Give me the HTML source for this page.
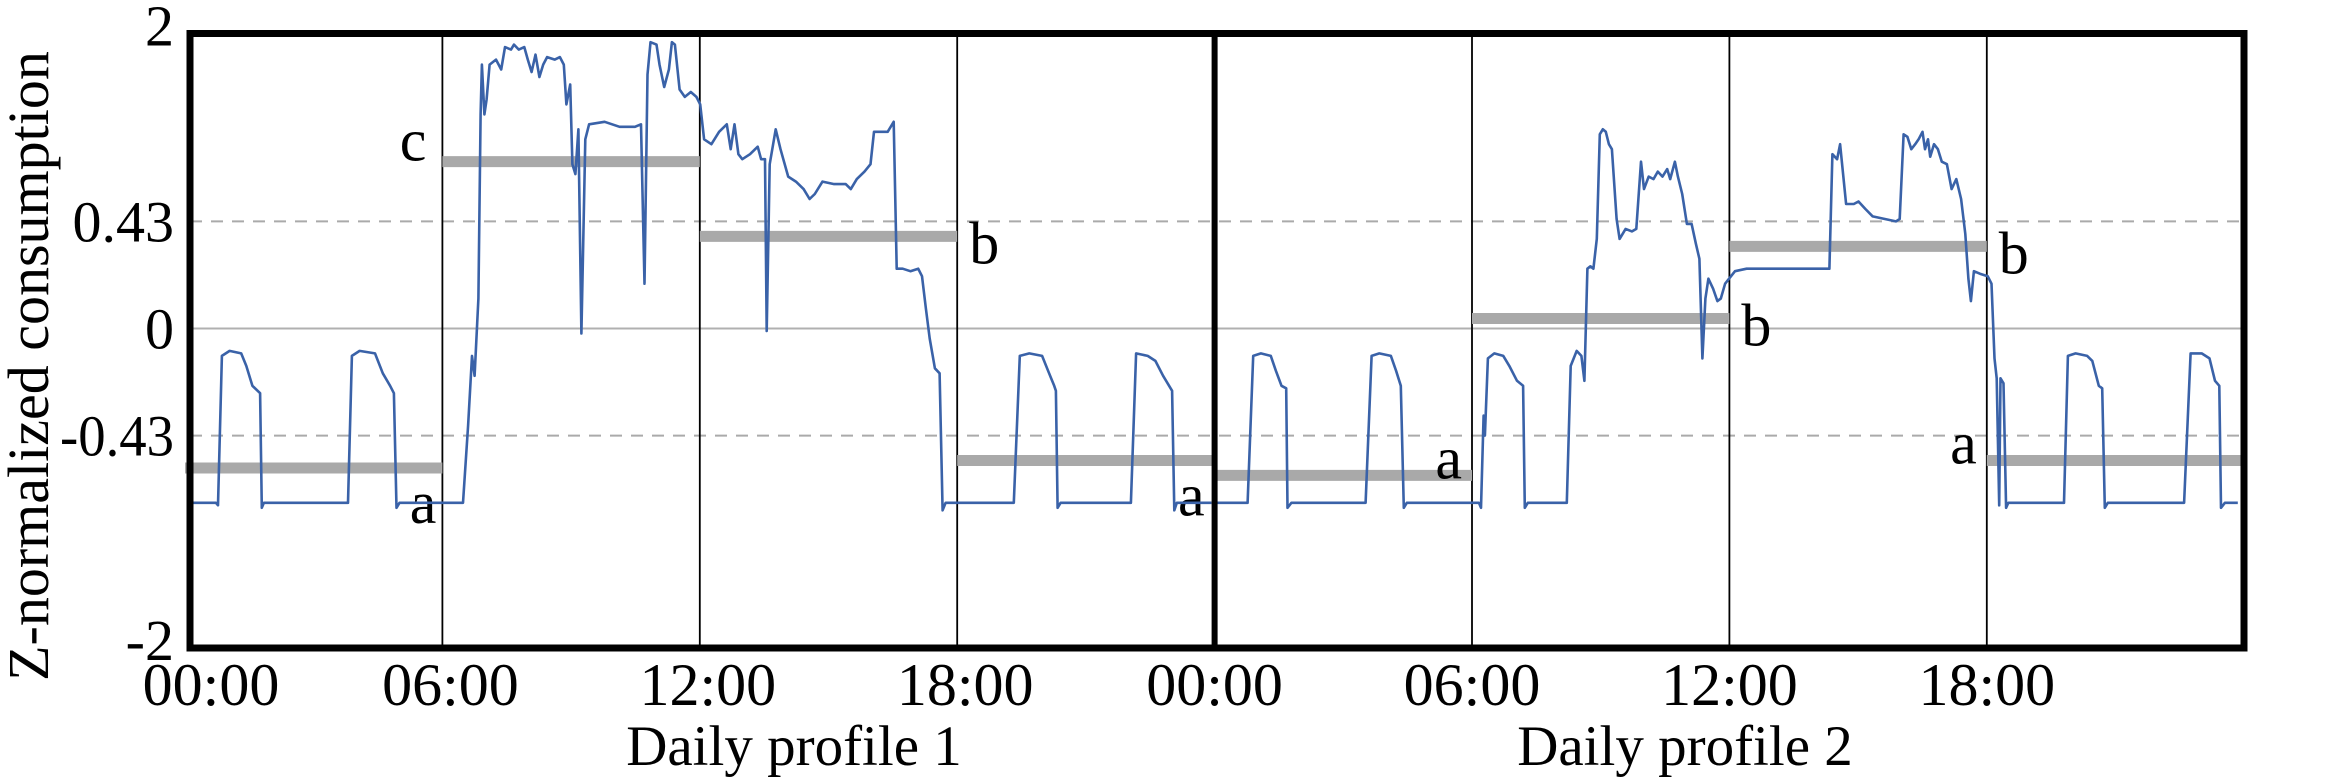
<!DOCTYPE html>
<html>
<head>
<meta charset="utf-8">
<style>
html,body{margin:0;padding:0;background:#fff;}
svg{display:block;}
text{font-family:"Liberation Serif",serif;fill:#000;}
</style>
</head>
<body>
<svg id="chart" width="2350" height="783" viewBox="0 0 2350 783" xmlns="http://www.w3.org/2000/svg">
  <g id="grid"></g>
  <g id="bars"></g>
  <g id="series"></g>
  <g id="frame"></g>
  <g id="labels"></g>
  <text transform="translate(48,366) rotate(-90)" text-anchor="middle" font-size="58">Z-normalized consumption</text>
  <text x="794" y="765" text-anchor="middle" font-size="57">Daily profile 1</text>
  <text x="1685" y="765" text-anchor="middle" font-size="57">Daily profile 2</text>
</svg>
<script>
// ---- data ----
const hours1 = [0.15,0.72,0.77,0.86,1.04,1.31,1.43,1.57,1.75,1.79,1.84,3.80,3.89,4.07,4.43,4.61,4.78,4.87,4.93,5.00,6.48,6.60,6.69,6.75,6.84,6.89,6.92,6.98,7.03,7.10,7.25,7.37,7.46,7.60,7.67,7.78,7.91,7.99,8.08,8.17,8.26,8.35,8.44,8.62,8.74,8.83,8.89,8.98,9.03,9.10,9.17,9.24,9.33,9.42,9.78,10.13,10.49,10.63,10.71,10.78,10.85,10.99,11.06,11.17,11.28,11.35,11.42,11.53,11.65,11.79,11.92,12.01,12.10,12.27,12.45,12.63,12.72,12.81,12.90,12.99,13.17,13.35,13.43,13.52,13.56,13.63,13.77,13.88,14.06,14.24,14.42,14.56,14.68,14.86,15.13,15.40,15.52,15.66,15.84,15.98,16.06,16.20,16.38,16.52,16.59,16.73,16.91,17.09,17.18,17.27,17.36,17.48,17.59,17.66,17.73,19.32,19.46,19.68,19.98,20.12,20.26,20.30,20.34,20.41,22.05,22.17,22.44,22.62,22.80,22.94,23.01,23.06,23.12,23.92];
const values1 = [-0.70,-0.70,-0.71,-0.11,-0.09,-0.10,-0.15,-0.23,-0.26,-0.72,-0.70,-0.70,-0.11,-0.09,-0.10,-0.18,-0.23,-0.26,-0.72,-0.70,-0.70,-0.39,-0.11,-0.19,0.12,0.86,1.06,0.86,0.92,1.06,1.08,1.04,1.13,1.12,1.14,1.12,1.13,1.08,1.03,1.10,1.01,1.06,1.09,1.08,1.09,1.06,0.90,0.98,0.66,0.62,0.80,-0.02,0.76,0.82,0.83,0.81,0.81,0.82,0.18,1.02,1.15,1.14,1.06,0.97,1.04,1.15,1.14,0.96,0.93,0.95,0.93,0.90,0.76,0.74,0.79,0.82,0.72,0.82,0.70,0.68,0.70,0.73,0.68,0.68,-0.01,0.66,0.80,0.72,0.61,0.59,0.56,0.52,0.54,0.59,0.58,0.58,0.56,0.60,0.63,0.66,0.79,0.79,0.79,0.83,0.24,0.24,0.23,0.24,0.21,0.08,-0.04,-0.16,-0.18,-0.73,-0.70,-0.70,-0.11,-0.10,-0.11,-0.17,-0.23,-0.25,-0.72,-0.70,-0.70,-0.10,-0.11,-0.13,-0.19,-0.23,-0.25,-0.73,-0.70,-0.70];
const hours2 = [23.92,24.77,24.90,25.08,25.31,25.43,25.56,25.67,25.70,25.79,27.52,27.66,27.84,28.11,28.23,28.34,28.41,28.48,30.16,30.21,30.27,30.30,30.37,30.52,30.73,30.87,31.05,31.19,31.23,31.30,32.21,32.30,32.44,32.55,32.62,32.69,32.76,32.83,32.91,32.98,33.05,33.12,33.19,33.26,33.37,33.44,33.51,33.58,33.73,33.83,33.94,34.01,34.12,34.23,34.33,34.44,34.55,34.62,34.73,34.80,34.90,35.01,35.12,35.22,35.30,35.37,35.44,35.51,35.62,35.72,35.80,35.90,36.13,36.40,36.76,37.29,37.83,38.33,38.40,38.51,38.58,38.65,38.72,38.90,39.01,39.17,39.34,39.61,39.88,39.97,40.06,40.15,40.24,40.33,40.41,40.50,40.56,40.63,40.68,40.77,40.86,40.95,41.07,41.18,41.29,41.40,41.50,41.57,41.63,41.70,41.84,42.02,42.11,42.18,42.23,42.29,42.32,42.39,42.45,42.50,43.80,43.89,44.07,44.34,44.46,44.61,44.69,44.75,44.82,46.60,46.75,47.01,47.19,47.32,47.42,47.46,47.55,47.85];
const values2 = [-0.70,-0.70,-0.11,-0.10,-0.11,-0.17,-0.23,-0.24,-0.72,-0.70,-0.70,-0.11,-0.10,-0.11,-0.17,-0.23,-0.72,-0.70,-0.70,-0.72,-0.35,-0.43,-0.12,-0.10,-0.11,-0.15,-0.21,-0.23,-0.72,-0.70,-0.70,-0.15,-0.09,-0.11,-0.21,0.24,0.25,0.24,0.36,0.78,0.80,0.79,0.74,0.72,0.44,0.36,0.38,0.40,0.39,0.40,0.67,0.56,0.61,0.60,0.63,0.61,0.64,0.60,0.67,0.61,0.54,0.42,0.42,0.34,0.28,-0.12,0.12,0.20,0.16,0.11,0.12,0.18,0.23,0.24,0.24,0.24,0.24,0.24,0.70,0.68,0.74,0.62,0.50,0.50,0.51,0.48,0.45,0.44,0.43,0.44,0.78,0.77,0.72,0.74,0.76,0.79,0.72,0.76,0.69,0.74,0.72,0.67,0.66,0.56,0.60,0.52,0.38,0.20,0.11,0.23,0.22,0.21,0.18,-0.12,-0.20,-0.71,-0.20,-0.22,-0.72,-0.70,-0.70,-0.11,-0.10,-0.11,-0.13,-0.23,-0.24,-0.72,-0.70,-0.70,-0.10,-0.10,-0.12,-0.21,-0.23,-0.72,-0.70,-0.70];
const segStarts = [0,6,12,18,24,30,36,42];
const segEnds = [6,12,18,24,30,36,42,48];
const segValues = [-0.56,0.67,0.37,-0.53,-0.59,0.04,0.33,-0.53];
const segLabels = ['a','c','b','a','a','b','b','a'];
const yTickValues = [2,0.43,0,-0.43,-2];
const yTickLabels = ['2','0.43','0','-0.43','-2'];
const xTickHours = [0,6,12,18,24,30,36,42];
const xTickLabels = ['00:00','06:00','12:00','18:00','00:00','06:00','12:00','18:00'];
const dashedValues = [0.43,-0.43];

// ---- scales ----
const X0 = 185, XPH = 42.9;
const Y0 = 328.5, YPU = 249;
const TOP = 33.5, BOT = 648, LEFT = 190, RIGHT = 2244;
const VMAX = (Y0-TOP)/YPU, VMIN = (Y0-BOT)/YPU;
function x(h){ return X0 + h*XPH; }
function y(v){ const c = Math.max(VMIN, Math.min(VMAX, v)); return Y0 - c*YPU; }
const NS = 'http://www.w3.org/2000/svg';
function mk(tag, parent, attrs){ const e = document.createElementNS(NS, tag); for (const k in attrs) e.setAttribute(k, attrs[k]); parent.appendChild(e); return e; }

const grid = document.getElementById('grid');
let zl = mk('line', grid, {x1:LEFT, x2:RIGHT, y1:y(0), y2:y(0), stroke:'#b0b0b0', 'stroke-width':2});


dashedValues.forEach(v => {
  const l = mk('line', grid, {x1:LEFT, x2:RIGHT, y1:y(v), y2:y(v), stroke:'#aaaaaa', 'stroke-width':2, 'stroke-dasharray':'12 9'});
  
  
});
xTickHours.forEach((h, i) => {
  if (h === 0 || h === 24) return;
  const l = mk('line', grid, {x1:x(h), x2:x(h), y1:TOP, y2:BOT, stroke:'#000', 'stroke-width':1.8});
  
  
});

// segment means
const bars = document.getElementById('bars');
const labelDx = [-6, -16, 12, -10, -10, 12, 12, -10];
const labelDy = [36, -20, 8, 36, -16, 8, 8, -16];
const labelAnchor = ['end','end','start','end','end','start','start','end'];
segStarts.forEach((s, i) => {
  const r = mk('line', bars, {x1:x(s), x2:x(segEnds[i]), y1:y(segValues[i]), y2:y(segValues[i]), stroke:'#a9a9a9', 'stroke-width':11});
  
  
  const atStart = segLabels[i] === 'c' || i === 7;
  const ax = atStart ? x(s) : x(segEnds[i]);
  const t = mk('text', bars, {x: ax + labelDx[i], y: y(segValues[i]) + labelDy[i] + 19, 'font-size':60, 'text-anchor':labelAnchor[i]});
  t.textContent = segLabels[i];
  
  
});

// series
const series = document.getElementById('series');
function path(hs, vs){ return hs.map((h,i)=>(i?'L':'M')+x(h).toFixed(1)+' '+y(vs[i]).toFixed(1)).join(' '); }
const p1 = mk('path', series, {d:path(hours1, values1), fill:'none', stroke:'#3a62a8', 'stroke-width':2.6, 'stroke-linejoin':'round'});


const p2 = mk('path', series, {d:path(hours2, values2), fill:'none', stroke:'#3a62a8', 'stroke-width':2.6, 'stroke-linejoin':'round'});



// frame
const frame = document.getElementById('frame');
const fr = mk('rect', frame, {x:LEFT, y:TOP, width:RIGHT-LEFT, height:BOT-TOP, fill:'none', stroke:'#000', 'stroke-width':7});


const mid = mk('line', frame, {x1:x(24), x2:x(24), y1:TOP, y2:BOT, stroke:'#000', 'stroke-width':6});



// labels
const labels = document.getElementById('labels');
yTickValues.forEach((v, i) => {
  const edge = (v >= VMAX || v <= VMIN);
  const t = mk('text', labels, {x:174, y:y(v)+(edge ? 12 : 20), 'font-size':58, 'text-anchor':'end'});
  t.textContent = yTickLabels[i];
  if (yTickLabels[i] === '-0.43') { t.setAttribute('textLength', '114'); t.setAttribute('lengthAdjust', 'spacingAndGlyphs'); }
  
  
});
xTickHours.forEach((h, i) => {
  const t = mk('text', labels, {x:Math.max(211, x(h) + (h < 24 ? 8 : 0)), y:705, 'font-size':60, 'text-anchor':'middle'});
  t.textContent = xTickLabels[i];
  
  
});
</script>
</body>
</html>
